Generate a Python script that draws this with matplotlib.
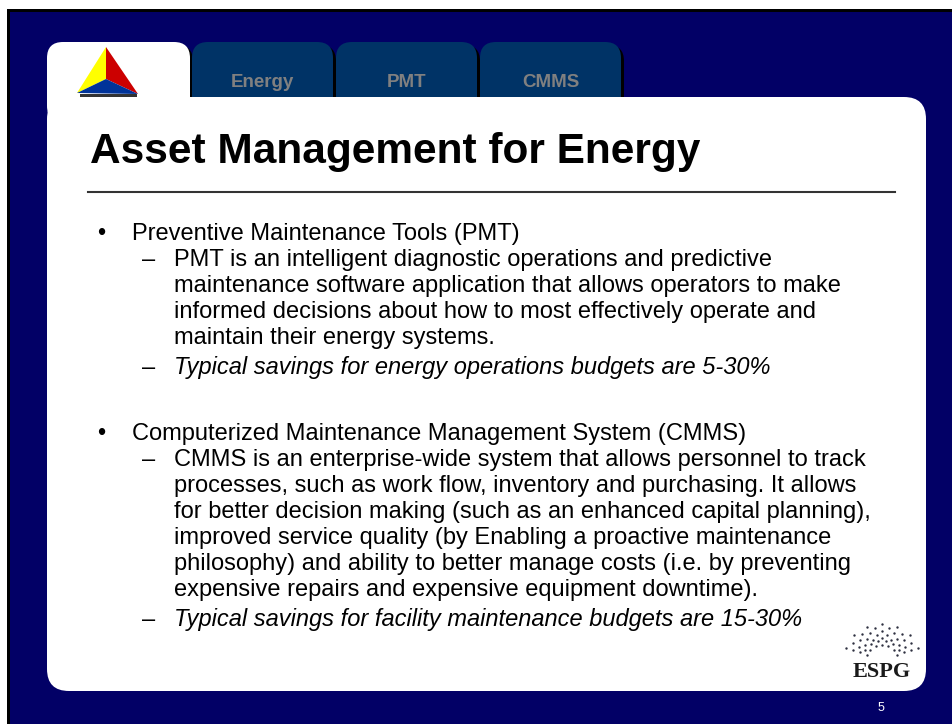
import numpy as np
import matplotlib
matplotlib.use("Agg")
import matplotlib.pyplot as plt
from matplotlib.patches import FancyBboxPatch, Polygon, Rectangle

# slide content
tab_labels = ["Energy", "PMT", "CMMS"]
title = "Asset Management for Energy"
bullets = ["Preventive Maintenance Tools (PMT)",
           "Computerized Maintenance Management System (CMMS)"]
pmt_detail = ["PMT is an intelligent diagnostic operations and predictive",
              "maintenance software application that allows operators to make",
              "informed decisions about how to most effectively operate and",
              "maintain their energy systems."]
pmt_savings = "Typical savings for energy operations budgets are 5-30%"
cmms_detail = ["CMMS is an enterprise-wide system that allows personnel to track",
               "processes, such as work flow, inventory and purchasing. It allows",
               "for better decision making (such as an enhanced capital planning),",
               "improved service quality (by Enabling a proactive maintenance",
               "philosophy) and ability to better manage costs (i.e. by preventing",
               "expensive repairs and expensive equipment downtime)."]
cmms_savings = "Typical savings for facility maintenance budgets are 15-30%"
page_number = "5"

NAVY = "#020066"
TAB = "#003366"
FONT = "Liberation Sans"

fig = plt.figure(figsize=(9.52, 7.24), dpi=100)
fig.patch.set_facecolor("white")
ax = fig.add_axes([0, 0, 1, 1])
ax.set_xlim(0, 952)
ax.set_ylim(724, 0)
ax.axis("off")

# background + thin black frame at top/left
ax.add_patch(Rectangle((7, 9), 960, 730, facecolor="black", lw=0))
ax.add_patch(Rectangle((9.5, 12), 960, 730, facecolor=NAVY, lw=0))

def rbox(x, y, w, h, r, fc, z):
    ax.add_patch(FancyBboxPatch((x, y), w, h, boxstyle=f"round,pad=0,rounding_size={r}",
                                facecolor=fc, edgecolor="none", zorder=z))

# tabs
tab_left = [192, 336, 480]
tab_w = 141
for x, lab in zip(tab_left, tab_labels):
    rbox(x + 3, 45, tab_w, 80, 16, "black", 1)
    rbox(x, 42, tab_w, 80, 16, TAB, 2)
    ax.text(x + tab_w / 2, 87, lab, color="#808080", fontsize=13.5,
            fontweight="bold", family=FONT, ha="center", va="baseline", zorder=3)

# white tab + panel
rbox(47 + 3, 45, 143, 80, 16, "black", 1)
rbox(47, 42, 143, 80, 16, "white", 4)
rbox(47, 97, 879, 594, 22, "white", 4)

# triangle logo
apex, bl, br, mid = (106, 47), (77, 93), (138, 94), (106, 79)
ax.add_patch(Polygon([(80, 94), (137, 94), (137, 97), (80, 97)], closed=True,
                     facecolor="#333333", edgecolor="none", zorder=5))
ax.add_patch(Polygon([apex, bl, mid], closed=True, facecolor="#ffff00", edgecolor="none", zorder=6))
ax.add_patch(Polygon([apex, mid, br], closed=True, facecolor="#cc0000", edgecolor="none", zorder=6))
ax.add_patch(Polygon([bl, mid, br], closed=True, facecolor="#003399", edgecolor="none", zorder=6))

# title and rule
ax.text(90, 163, title, fontsize=30.5, fontweight="bold", family=FONT,
        color="black", ha="left", va="baseline", zorder=6)
ax.plot([88, 895], [191.5, 191.5], color="#333333", lw=1.5, zorder=6)

# body text
line_h = 26
body = dict(fontsize=17, family=FONT, color="black", va="baseline", zorder=6)

def block(y, head, detail, savings):
    ax.text(101, y, "\u2022", ha="center", **body)
    ax.text(132, y, head, ha="left", **body)
    y += line_h
    ax.text(142, y, "\u2013", ha="left", **body)
    for line in detail:
        ax.text(174, y, line, ha="left", **body)
        y += line_h
    y += 4
    ax.text(142, y, "\u2013", ha="left", **body)
    ax.text(174, y, savings, ha="left", style="italic", **body)

block(240, bullets[0], pmt_detail, pmt_savings)
block(440, bullets[1], cmms_detail, cmms_savings)

# ESPG logo
cx, cy = 882, 666
for k, ang in enumerate(np.linspace(20, 160, 13)):
    a = np.deg2rad(ang)
    rr = np.linspace(16, 38, 4) if k % 2 == 0 else np.linspace(20, 34, 3)
    ax.scatter(cx + rr * np.cos(a), cy - 6 - rr * np.sin(a) * 0.95, s=3,
               color="#2e3040", lw=0, zorder=6)
ax.text(cx, 677, "ESPG", fontsize=16, fontweight="bold", family="Liberation Serif",
        color="#1a1a1a", ha="center", va="baseline", zorder=6)

ax.text(881, 711, page_number, fontsize=9, family=FONT, color="white",
        ha="center", va="baseline")

fig.savefig("out.png", dpi=100, facecolor=fig.get_facecolor())
